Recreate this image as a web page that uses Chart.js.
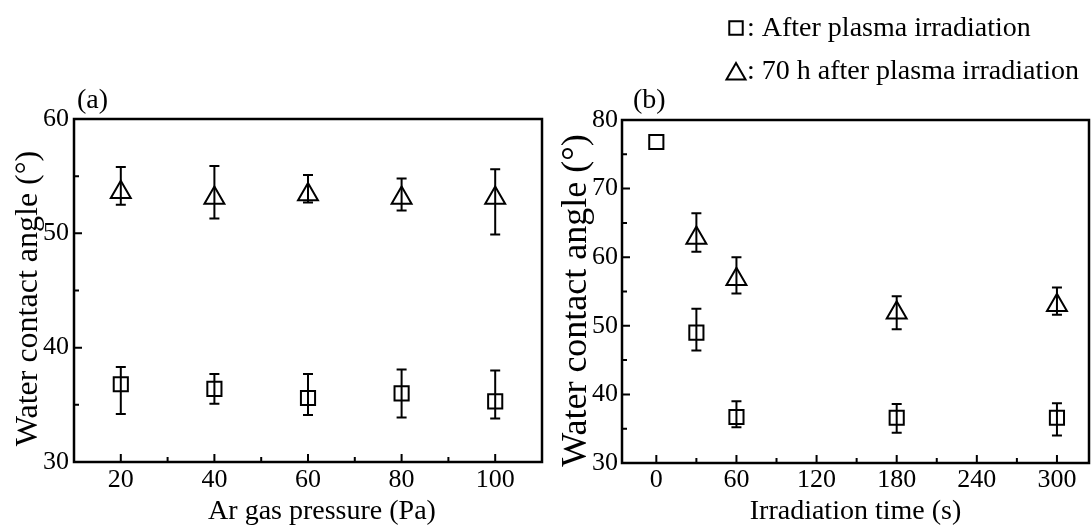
<!DOCTYPE html>
<html>
<head>
<meta charset="utf-8">
<script src="https://cdn.jsdelivr.net/npm/chart.js@4/dist/chart.umd.min.js"></script>
<style>
body { margin: 0; background: #fff; }
#wrap { position: relative; width: 1091px; height: 529px; }
.box { position: absolute; top: 0; height: 529px; }
</style>
</head>
<body>
<div id="wrap">
  <div class="box" style="left:0;width:545px"><canvas id="chartA"></canvas></div>
  <div class="box" style="left:545px;width:546px"><canvas id="chartB"></canvas></div>
</div>
<script>
// (a) contact angle vs Ar gas pressure
const pressure = [20, 40, 60, 80, 100];
const afterA    = [36.8, 36.4, 35.6, 36.0, 35.3];
const afterA_lo = [34.2, 35.1, 34.1, 33.9, 33.8];
const afterA_hi = [38.3, 37.7, 37.7, 38.1, 38.0];
const after70A    = [53.6, 53.1, 53.4, 53.1, 53.1];
const after70A_lo = [52.5, 51.3, 52.7, 52.0, 49.9];
const after70A_hi = [55.8, 55.9, 55.1, 54.8, 55.6];

// (b) contact angle vs irradiation time
const timeAfter = [0, 30, 60, 180, 300];
const afterB    = [76.8, 49.0, 36.7, 36.6, 36.6];
const afterB_lo = [76.8, 46.4, 35.2, 34.4, 34.0];
const afterB_hi = [76.8, 52.5, 39.0, 38.6, 38.7];
const time70 = [30, 60, 180, 300];
const after70B    = [62.8, 56.8, 51.9, 53.0];
const after70B_lo = [60.8, 54.7, 49.5, 51.6];
const after70B_hi = [66.4, 60.0, 54.3, 55.6];

// ticks
const xTicksA = [20, 40, 60, 80, 100];
const xMinorA = [30, 50, 70, 90];
const yTicksA = [30, 40, 50, 60];
const yMinorA = [35, 45, 55];
const xTicksB = [0, 60, 120, 180, 240, 300];
const xMinorB = [30, 90, 150, 210, 270];
const yTicksB = [30, 40, 50, 60, 70, 80];
const yMinorB = [35, 45, 55, 65, 75];

const legendLabels = [': After plasma irradiation', ': 70 h after plasma irradiation'];

const SERIF = "'Liberation Serif', 'Times New Roman', serif";
Chart.defaults.font.family = SERIF;
Chart.defaults.color = '#000';

function pts(xs, ys, lo, hi) {
    return xs.map((x, i) => ({ x: x, y: ys[i], lo: lo[i], hi: hi[i] }));
}

// error bars, placed with the chart scales
const errorBars = {
    id: 'errorBars',
    beforeDatasetsDraw(chart) {
        const ctx = chart.ctx;
        const xs = chart.scales.x, ys = chart.scales.y;
        ctx.save();
        ctx.strokeStyle = '#000';
        ctx.lineWidth = 2;
        chart.data.datasets.forEach(ds => {
            ds.data.forEach(p => {
                if (p.lo === p.hi) return;
                const x = xs.getPixelForValue(p.x);
                const y1 = ys.getPixelForValue(p.lo);
                const y2 = ys.getPixelForValue(p.hi);
                ctx.beginPath();
                ctx.moveTo(x, y1); ctx.lineTo(x, y2);
                ctx.moveTo(x - 5, y1); ctx.lineTo(x + 5, y1);
                ctx.moveTo(x - 5, y2); ctx.lineTo(x + 5, y2);
                ctx.stroke();
            });
        });
        ctx.restore();
    }
};

// box around the plot, inward ticks, panel letter
const frame = {
    id: 'frame',
    afterDraw(chart, args, opts) {
        const ctx = chart.ctx;
        const a = chart.chartArea;
        const xs = chart.scales.x, ys = chart.scales.y;
        ctx.save();
        ctx.strokeStyle = '#000';
        ctx.lineWidth = 2.5;
        ctx.strokeRect(a.left, a.top, a.right - a.left, a.bottom - a.top);
        ctx.lineWidth = 2;
        ctx.beginPath();
        const xtick = (vals, len) => vals.forEach(v => {
            const x = xs.getPixelForValue(v);
            ctx.moveTo(x, a.bottom); ctx.lineTo(x, a.bottom - len);
        });
        const ytick = (vals, len) => vals.forEach(v => {
            const y = ys.getPixelForValue(v);
            ctx.moveTo(a.left, y); ctx.lineTo(a.left + len, y);
        });
        xtick(opts.xMajor, 8); xtick(opts.xMinor, 5);
        ytick(opts.yMajor, 8); ytick(opts.yMinor, 5);
        ctx.stroke();
        ctx.font = '28px ' + SERIF;
        ctx.fillStyle = '#000';
        ctx.textBaseline = 'middle';
        ctx.fillText(opts.panel, opts.panelX, opts.panelY);
        ctx.restore();
    }
};

const legendDraw = {
    id: 'legendDraw',
    afterDraw(chart, args, opts) {
        if (!opts.show) return;
        const ctx = chart.ctx;
        ctx.save();
        ctx.strokeStyle = '#000';
        ctx.fillStyle = 'rgba(0,0,0,0)';
        ctx.lineWidth = 2;
        Chart.helpers.drawPoint(ctx, { pointStyle: 'rect', radius: 9.5, borderWidth: 2 }, 191, 28);
        Chart.helpers.drawPoint(ctx, { pointStyle: 'triangle', radius: 11, borderWidth: 2 }, 191, 74);
        ctx.fillStyle = '#000';
        ctx.font = '28px ' + SERIF;
        ctx.textBaseline = 'alphabetic';
        ctx.fillText(legendLabels[0], 202, 36);
        ctx.fillText(legendLabels[1], 202, 78.5);
        ctx.restore();
    }
};

function dsOpts(style, r) {
    return {
        pointStyle: style,
        pointRadius: r,
        pointHoverRadius: r,
        borderColor: '#000',
        backgroundColor: 'rgba(0,0,0,0)',
        borderWidth: 2,
        showLine: false
    };
}

function noPad(s) {
    s.paddingLeft = 0; s.paddingRight = 0;
    s.paddingTop = 0; s.paddingBottom = 0;
}

function makeChart(id, cfg) {
    const ctx = document.getElementById(id).getContext('2d');
    return new Chart(ctx, {
        type: 'scatter',
        data: { datasets: cfg.datasets },
        options: {
            responsive: true,
            maintainAspectRatio: false,
            animation: false,
            layout: { padding: cfg.padding, autoPadding: false },
            plugins: {
                legend: { display: false },
                tooltip: { enabled: false },
                frame: cfg.frame,
                legendDraw: { show: cfg.legend }
            },
            scales: {
                x: {
                    type: 'linear',
                    min: cfg.xMin, max: cfg.xMax,
                    afterBuildTicks: s => { s.ticks = cfg.frame.xMajor.map(v => ({ value: v })); },
                    afterFit: s => { s.height = cfg.xHeight; noPad(s); },
                    grid: { display: false, drawTicks: false },
                    border: { display: false },
                    ticks: { font: { size: 26 }, color: '#000', padding: cfg.xPad, maxRotation: 0 },
                    title: { display: true, text: cfg.xTitle, font: { size: 28 }, color: '#000', padding: { top: 0, bottom: 1 } }
                },
                y: {
                    type: 'linear',
                    min: cfg.yMin, max: cfg.yMax,
                    afterBuildTicks: s => { s.ticks = cfg.frame.yMajor.map(v => ({ value: v })); },
                    afterFit: s => { s.width = cfg.yWidth; noPad(s); },
                    grid: { display: false, drawTicks: false },
                    border: { display: false },
                    ticks: { font: { size: 26 }, color: '#000', padding: cfg.yPad },
                    title: { display: true, text: 'Water contact angle (\u00B0)\u2002', font: { size: cfg.yTitleSize }, color: '#000', padding: { top: cfg.yTitlePad, bottom: 0 } }
                }
            }
        },
        plugins: [errorBars, frame, legendDraw]
    });
}

makeChart('chartA', {
    datasets: [
        Object.assign({ label: 'After plasma irradiation', data: pts(pressure, afterA, afterA_lo, afterA_hi) }, dsOpts('rect', 10)),
        Object.assign({ label: '70 h after plasma irradiation', data: pts(pressure, after70A, after70A_lo, after70A_hi) }, dsOpts('triangle', 11.5))
    ],
    padding: { left: 0, top: 119, right: 3, bottom: 0 },
    xMin: 10, xMax: 110, yMin: 30, yMax: 60,
    xHeight: 67, yWidth: 74, yTitlePad: 9, yTitleSize: 32, xPad: 3, yPad: 5,
    xTitle: '\u2002\u2002Ar gas pressure (Pa)',
    legend: false,
    frame: { xMajor: xTicksA, xMinor: xMinorA, yMajor: yTicksA, yMinor: yMinorA, panel: '(a)', panelX: 77, panelY: 101 }
});

makeChart('chartB', {
    datasets: [
        Object.assign({ label: 'After plasma irradiation', data: pts(timeAfter, afterB, afterB_lo, afterB_hi) }, dsOpts('rect', 10)),
        Object.assign({ label: '70 h after plasma irradiation', data: pts(time70, after70B, after70B_lo, after70B_hi) }, dsOpts('triangle', 11.5))
    ],
    padding: { left: 0, top: 120, right: 2, bottom: 0 },
    xMin: -25.7, xMax: 324, yMin: 30, yMax: 80,
    xHeight: 66, yWidth: 77, yTitlePad: 10, yTitleSize: 36, xPad: 2, yPad: 4,
    xTitle: 'Irradiation time (s)',
    legend: true,
    frame: { xMajor: xTicksB, xMinor: xMinorB, yMajor: yTicksB, yMinor: yMinorB, panel: '(b)', panelX: 88, panelY: 101 }
});
</script>
</body>
</html>
